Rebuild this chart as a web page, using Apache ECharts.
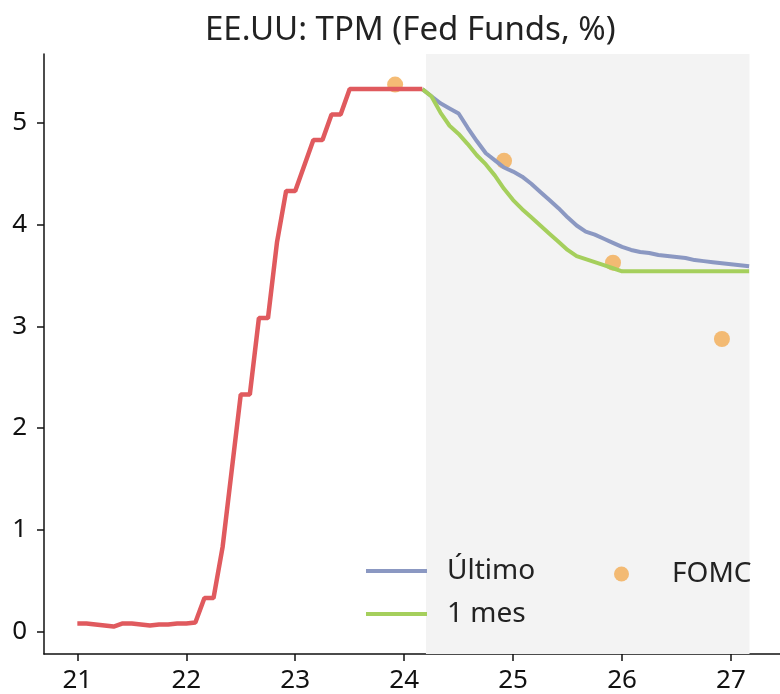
<!DOCTYPE html>
<html>
<head>
<meta charset="utf-8">
<title>EE.UU: TPM</title>
<script src="https://cdn.jsdelivr.net/npm/echarts@6/dist/echarts.min.js"></script>
<style>
    html, body { margin: 0; padding: 0; background: #fff; }
    #chart { width: 780px; height: 694px; }
</style>
</head>
<body>
<div id="chart"></div>
<script>
// monthly data, first month = Jan 2021
const startYear = 21;
const tpmValues = [
    0.08, 0.08, 0.07, 0.06, 0.05, 0.08, 0.08, 0.07, 0.06, 0.07, 0.07, 0.08,
    0.08, 0.09, 0.33, 0.33, 0.83, 1.58, 2.33, 2.33, 3.08, 3.08, 3.83, 4.33,
    4.33, 4.58, 4.83, 4.83, 5.08, 5.08, 5.33, 5.33, 5.33, 5.33, 5.33, 5.33,
    5.33, 5.33, 5.33
];
// futures paths start at Mar 2024 (month index 38)
const pathStart = 38;
const ultimoValues = [
    5.33, 5.26, 5.19, 5.14, 5.09, 4.95, 4.82, 4.70, 4.63, 4.56, 4.52, 4.47,
    4.40, 4.32, 4.24, 4.16, 4.07, 3.99, 3.93, 3.90, 3.86, 3.82, 3.78, 3.75,
    3.73, 3.72, 3.70, 3.69, 3.68, 3.67, 3.65, 3.64, 3.63, 3.62, 3.61, 3.60,
    3.59
];
const unMesValues = [
    5.33, 5.26, 5.10, 4.97, 4.89, 4.79, 4.68, 4.59, 4.48, 4.35, 4.24, 4.15,
    4.07, 3.99, 3.91, 3.83, 3.75, 3.69, 3.66, 3.63, 3.60, 3.57, 3.54, 3.54,
    3.54, 3.54, 3.54, 3.54, 3.54, 3.54, 3.54, 3.54, 3.54, 3.54, 3.54, 3.54,
    3.54
];
const fomcX = [23.917, 24.917, 25.917, 26.917];
const fomcValues = [5.375, 4.625, 3.625, 2.875];
const shadeRange = [24.2, 27.17];
const xTicks = [21, 22, 23, 24, 25, 26, 27];
const yTicks = [0, 1, 2, 3, 4, 5];

const font = "'Noto Sans', sans-serif";

function monthly(values, offset) {
    let out = [];
    for (let i = 0; i < values.length; i++) {
        out.push([startYear + (offset + i) / 12, values[i]]);
    }
    return out;
}

let fomcData = [];
for (let i = 0; i < fomcX.length; i++) {
    fomcData.push([fomcX[i], fomcValues[i]]);
}

const axisLine = { show: true, onZero: false, lineStyle: { color: '#111', width: 1.5 } };

const option = {
    animation: false,
    backgroundColor: '#fff',
    title: {
        text: 'EE.UU: TPM (Fed Funds, %)',
        left: 200,
        top: 9,
        textStyle: { fontFamily: font, fontSize: 33, fontWeight: 'normal', color: '#222' }
    },
    grid: { left: 44, right: 0, top: 54, bottom: 40 },
    xAxis: {
        type: 'value',
        min: 20.694,
        max: 27.45,
        axisLine: axisLine,
        axisTick: { show: true, length: 7, customValues: xTicks, lineStyle: { color: '#111', width: 1.5 } },
        splitLine: { show: false },
        axisLabel: {
            customValues: xTicks,
            margin: 14,
            fontFamily: font,
            fontSize: 26,
            color: '#111'
        }
    },
    yAxis: {
        type: 'value',
        min: -0.22,
        max: 5.675,
        axisLine: axisLine,
        axisTick: { show: true, length: 7, customValues: yTicks, lineStyle: { color: '#111', width: 1.5 } },
        splitLine: { show: false },
        axisLabel: {
            customValues: yTicks,
            margin: 17,
            fontFamily: font,
            fontSize: 26,
            color: '#111'
        }
    },
    legend: [
        {
            data: ['Último', '1 mes'],
            orient: 'vertical',
            left: 361,
            top: 550,
            icon: 'rect',
            itemWidth: 61,
            itemHeight: 4,
            itemGap: 11,
            textStyle: { fontFamily: font, fontSize: 28, color: '#222', lineHeight: 32, padding: [0, 0, 0, 15] }
        },
        {
            data: ['FOMC'],
            left: 609,
            top: 553,
            icon: 'circle',
            itemWidth: 15,
            itemHeight: 15,
            textStyle: { fontFamily: font, fontSize: 28, color: '#222', lineHeight: 32, padding: [0, 0, 0, 38] }
        }
    ],
    series: [
        {
            // shaded forecast zone
            name: 'shade',
            type: 'line',
            data: [],
            z: 1,
            markArea: {
                silent: true,
                itemStyle: { color: '#f3f3f3' },
                data: [[{ xAxis: shadeRange[0] }, { xAxis: shadeRange[1] }]]
            }
        },
        {
            name: 'FOMC',
            type: 'scatter',
            data: fomcData,
            symbolSize: 16,
            z: 2,
            itemStyle: { color: '#f2ab52' }
        },
        {
            name: 'Último',
            type: 'line',
            data: monthly(ultimoValues, pathStart),
            showSymbol: false,
            z: 3,
            lineStyle: { color: '#8b98c2', width: 4 },
            itemStyle: { color: '#8b98c2' }
        },
        {
            name: '1 mes',
            type: 'line',
            data: monthly(unMesValues, pathStart),
            showSymbol: false,
            z: 3,
            lineStyle: { color: '#a5cf5c', width: 4 },
            itemStyle: { color: '#a5cf5c' }
        },
        {
            name: 'TPM',
            type: 'line',
            data: monthly(tpmValues, 0),
            showSymbol: false,
            z: 4,
            lineStyle: { color: '#e05a5e', width: 4.5 },
            itemStyle: { color: '#e05a5e' }
        }
    ]
};

const chart = echarts.init(document.getElementById('chart'));
chart.setOption(option);
window.addEventListener('resize', function () {
    chart.resize();
});
</script>
</body>
</html>
